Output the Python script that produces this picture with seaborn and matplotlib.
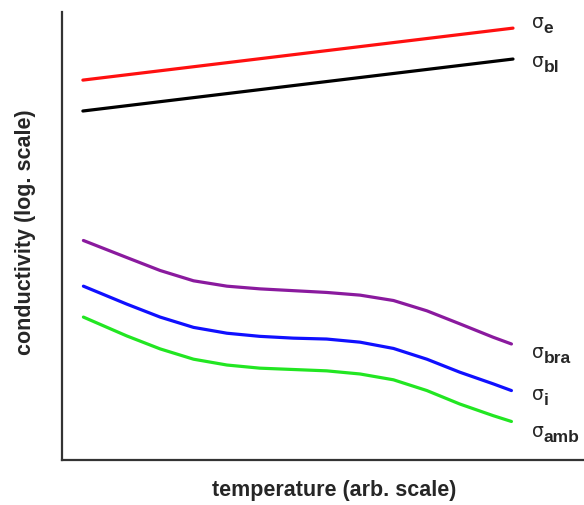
import numpy as np
import pandas as pd
import matplotlib
matplotlib.use("Agg")
import matplotlib.pyplot as plt
import seaborn as sns

# Data (arbitrary units)
x_lin = [0.40, 8.64]
sigma_e = [8.48, 9.64]
sigma_bl = [7.79, 8.95]

x_curve = [0.41, 1.24, 1.88, 2.52, 3.16, 3.79, 4.43, 5.07, 5.71, 6.35, 6.99, 7.62, 8.26, 8.61]
sigma_bra = [4.90, 4.52, 4.23, 4.00, 3.88, 3.82, 3.78, 3.74, 3.68, 3.56, 3.33, 3.04, 2.74, 2.59]
sigma_i = [3.88, 3.48, 3.19, 2.96, 2.83, 2.76, 2.72, 2.70, 2.63, 2.49, 2.25, 1.96, 1.70, 1.55]
sigma_amb = [3.19, 2.77, 2.48, 2.25, 2.12, 2.05, 2.02, 1.99, 1.92, 1.79, 1.55, 1.25, 0.99, 0.86]

labels = ["e", "bl", "bra", "i", "amb"]
colors = ["#ff1010", "#000000", "#8a1a9e", "#1010ff", "#22e622"]
# label anchor positions (baseline of the sigma glyph)
label_x = 9.0
label_y = [9.67, 8.79, 2.30, 1.36, 0.54]

sns.set_style("white")
plt.rcParams["font.family"] = ["Liberation Sans", "DejaVu Sans"]

fig = plt.figure(figsize=(5.84, 5.06), dpi=100)
ax = fig.add_axes([62/584, 45/506, 522/584, 448/506])

series = [(x_lin, sigma_e), (x_lin, sigma_bl), (x_curve, sigma_bra),
          (x_curve, sigma_i), (x_curve, sigma_amb)]
for (xs, ys), lab, c in zip(series, labels, colors):
    df = pd.DataFrame({"T": xs, "sigma": ys})
    sns.lineplot(data=df, x="T", y="sigma", color=c, linewidth=2.3, ax=ax,
                 sort=False)

ax.set_xlim(0, 10)
ax.set_ylim(0, 10)
ax.set_xticks([])
ax.set_yticks([])
for s in ["top", "right"]:
    ax.spines[s].set_visible(False)
for s in ["left", "bottom"]:
    ax.spines[s].set_color("#333333")
    ax.spines[s].set_linewidth(1.6)

ax.set_xlabel("temperature (arb. scale)", fontsize=15.5, fontweight="bold", va="center")
ax.set_ylabel("conductivity (log. scale)", fontsize=15.5, fontweight="bold", va="center")
ax.xaxis.set_label_coords(0.521, -0.066)
ax.yaxis.set_label_coords(-0.07, 0.51)

# end labels
for lab, ly in zip(labels, label_y):
    ax.annotate("σ", xy=(label_x, ly), xytext=(0, 0), textcoords="offset points",
                fontsize=13.5, va="baseline", ha="left", family=["DejaVu Sans"],
                annotation_clip=False)
    ax.annotate(lab, xy=(label_x, ly), xytext=(8.6, -3.6), textcoords="offset points",
                fontsize=12.5, fontweight="bold", va="baseline", ha="left",
                annotation_clip=False)

fig.savefig("out.png", dpi=100)
